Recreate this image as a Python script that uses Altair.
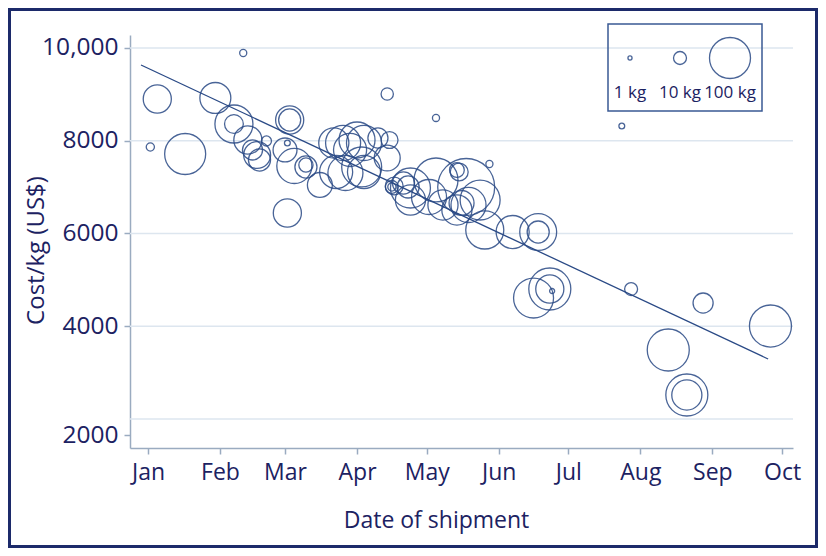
import altair as alt
import pandas as pd

# ---- shipment data ----
dates = [
    "2013-01-02", "2013-01-05", "2013-01-17", "2013-01-30", "2013-02-11",
    "2013-02-07", "2013-02-07", "2013-02-13", "2013-02-15", "2013-02-17",
    "2013-02-18", "2013-02-21", "2013-03-03", "2013-03-03", "2013-03-02",
    "2013-03-01", "2013-03-02", "2013-03-05", "2013-03-10", "2013-03-10",
    "2013-03-16", "2013-03-23", "2013-03-22", "2013-03-26", "2013-03-29",
    "2013-04-01", "2013-04-04", "2013-03-27", "2013-04-04", "2013-04-03",
    "2013-04-14", "2013-04-15", "2013-04-14", "2013-04-10", "2013-04-16",
    "2013-04-16", "2013-04-17", "2013-04-21", "2013-04-23", "2013-04-24",
    "2013-04-24", "2013-05-02", "2013-05-05", "2013-05-05", "2013-05-14",
    "2013-05-15", "2013-05-18", "2013-05-16", "2013-05-14", "2013-05-19",
    "2013-05-24", "2013-05-28", "2013-05-26", "2013-05-08", "2013-06-07",
    "2013-06-18", "2013-06-18", "2013-06-16", "2013-06-23", "2013-06-23",
    "2013-06-24", "2013-07-24", "2013-07-28", "2013-08-13", "2013-08-21",
    "2013-08-21", "2013-08-28", "2013-09-26",
]
costs = [
    7865, 8900, 7714, 8922, 9892,
    8361, 8361, 8016, 7801, 7693,
    7585, 7995, 8447, 8447, 7952,
    7801, 6442, 7456, 7434, 7477,
    7046, 7326, 7952, 7952, 7801,
    8016, 7952, 7305, 7326, 7434,
    9008, 8016, 7628, 8059, 7003,
    7003, 7024, 7089, 7003, 6981,
    6722, 6787, 8491, 7154, 7369,
    7326, 7003, 6658, 6507, 6615,
    6722, 7499, 6076, 6615, 6032,
    6032, 6032, 4609, 4803, 4803,
    4760, 8318, 4803, 3488, 2518,
    2518, 4501, 4005,
]
kgs = [
    4, 47, 100, 57, 3,
    21, 86, 47, 24, 43,
    29, 6, 47, 29, 2,
    34, 47, 73, 29, 12,
    37, 65, 54, 73, 65,
    77, 73, 73, 65, 95,
    9, 17, 40, 24, 4,
    10, 19, 29, 29, 95,
    54, 73, 3, 115, 13,
    19, 193, 37, 54, 73,
    95, 3, 86, 54, 65,
    81, 29, 95, 105, 47,
    1.5, 2, 10, 105, 105,
    54, 24, 105,
]

# regression line end points
line_dates = ["2012-12-29", "2013-09-25"]
line_costs = [9633, 3294]

# axis / legend text
month_labels = ["Jan", "Feb", "Mar", "Apr", "May", "Jun", "Jul", "Aug", "Sep", "Oct"]
grid_values = [2000, 4000, 6000, 8000, 10000]
legend_kg = [1, 10, 100]
legend_labels = ["1 kg", "10 kg", "100 kg"]

NAVY = "#1c2262"
CIRCLE = "#2a4a86"
AXIS = "#9aabc0"
GRID = "#dde6ef"
FONT = "Open Sans"

df = pd.DataFrame({"date": dates, "cost": costs, "kg": kgs})
line_df = pd.DataFrame({"date": line_dates, "cost": line_costs})
grid_df = pd.DataFrame({"cost": grid_values})
leg_df = pd.DataFrame({"kg": legend_kg, "label": legend_labels})

month_ticks = [alt.DateTime(year=2013, month=i + 1, date=1, utc=True) for i in range(len(month_labels))]
xscale = alt.Scale(
    type="utc",
    domain=[
        alt.DateTime(year=2012, month=12, date=24, hours=6, utc=True),
        alt.DateTime(year=2013, month=10, date=5, hours=17, utc=True),
    ],
)
yscale = alt.Scale(domain=[1375, 10280], nice=False, zero=False)
sscale = alt.Scale(domain=[0, 100], range=[0, 1681], zero=True)

x_axis = alt.Axis(
    values=month_ticks,
    labelExpr="utcFormat(datum.value, '%b')",
    title="Date of shipment",
    titleX=306, titleY=79, titleBaseline="alphabetic", titleAlign="center",
    titleFontSize=23, titleFontWeight="normal", titleColor=NAVY, titleFont=FONT,
    labelFontSize=23, labelColor=NAVY, labelFont=FONT, labelPadding=7,
    tickSize=6, tickWidth=1.5, tickColor=AXIS,
    domainColor=AXIS, domainWidth=1.5, grid=False,
)
y_axis = alt.Axis(
    values=[1655, 4000, 6000, 8000, 10000],
    labelExpr="datum.value < 2000 ? '2000' : (datum.value >= 10000 ? '10,000' : format(datum.value, 'd'))",
    title="Cost/kg (US$)",
    titleX=-87, titleY=215, titleBaseline="alphabetic", titleAlign="center", titleAngle=270,
    titleFontSize=24, titleFontWeight="normal", titleColor=NAVY, titleFont=FONT,
    labelFontSize=24.5, labelColor=NAVY, labelFont=FONT, labelPadding=6,
    tickSize=6, tickWidth=1.5, tickColor=AXIS,
    domainColor=AXIS, domainWidth=1.5, grid=False,
)

grid = alt.Chart(grid_df).mark_rule(color=GRID, strokeWidth=1.5).encode(
    y=alt.Y("cost:Q", scale=yscale, axis=y_axis)
)

reg = alt.Chart(line_df).mark_line(color=CIRCLE, strokeWidth=1.3).encode(
    x=alt.X("date:T", scale=xscale, axis=x_axis),
    y=alt.Y("cost:Q", scale=yscale, axis=y_axis),
)

points = alt.Chart(df).mark_point(
    shape="circle", filled=False, stroke=CIRCLE, strokeWidth=1.3, opacity=0.85
).encode(
    x=alt.X("date:T", scale=xscale, axis=x_axis),
    y=alt.Y("cost:Q", scale=yscale, axis=y_axis),
    size=alt.Size("kg:Q", scale=sscale, legend=None),
)

main = alt.layer(grid, reg, points)

leg_box = alt.Chart(alt.Data(values=[{}])).mark_rect(
    fillOpacity=0, stroke="#3a5a94", strokeWidth=1.5
).encode(x=alt.value(478), x2=alt.value(632), y=alt.value(-11), y2=alt.value(76))

leg_x = alt.X("label:N", sort=legend_labels, scale=alt.Scale(type="point", range=[500, 600], padding=0), axis=None)
leg_pts = alt.Chart(leg_df).mark_point(
    shape="circle", filled=False, stroke=CIRCLE, strokeWidth=1.3, opacity=0.85
).encode(
    x=leg_x,
    y=alt.value(23),
    size=alt.Size("kg:Q", scale=sscale, legend=None),
)
leg_txt = alt.Chart(leg_df).mark_text(
    font=FONT, fontSize=17, color=NAVY, baseline="alphabetic", align="center"
).encode(x=leg_x, y=alt.value(63), text="label:N")

legend = alt.layer(leg_box, leg_pts, leg_txt)

frame = alt.Chart(alt.Data(values=[{}])).mark_rect(
    fillOpacity=0, stroke="#1c2a6a", strokeWidth=3
).encode(x=alt.value(-120.5), x2=alt.value(686.5), y=alt.value(-25.5), y2=alt.value(511.5))

chart = (
    alt.layer(main, legend, frame)
    .resolve_scale(x="independent")
    .properties(
        width=663, height=413,
        autosize=alt.AutoSizeParams(type="none"),
        padding={"left": 122, "top": 27, "right": 25, "bottom": 100},
        background="white",
    )
    .configure_view(stroke=None)
)

chart.save("out.html", embed_options={"renderer": "svg", "actions": False})
